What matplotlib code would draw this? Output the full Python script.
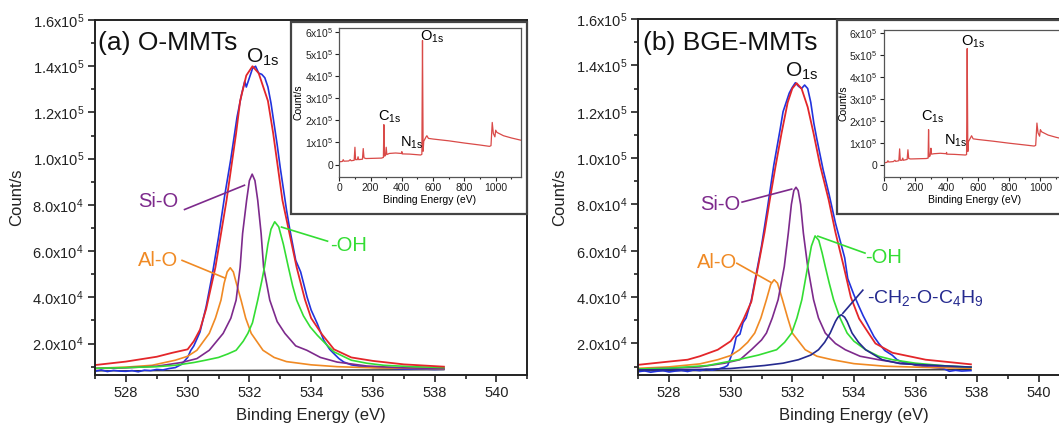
import numpy as np
import matplotlib
matplotlib.use("Agg")
import matplotlib.pyplot as plt
from matplotlib.patches import Rectangle
from matplotlib.ticker import FuncFormatter, MultipleLocator

plt.rcParams['font.family'] = ['Liberation Sans', 'DejaVu Sans']
plt.rcParams['mathtext.fontset'] = 'custom'
plt.rcParams['mathtext.rm'] = 'Liberation Sans'
plt.rcParams['mathtext.it'] = 'Liberation Sans:italic'

W, H = 1059, 425

# ---------------- panel (a) O-MMTs, O1s high resolution ----------------
a_raw_E = [527.0, 527.2, 527.4, 527.6, 527.8, 528.0, 528.2, 528.4, 528.6, 528.8, 529.0, 529.2,
           529.4, 529.6, 529.8, 530.0, 530.1, 530.2, 530.3, 530.4, 530.6, 530.8, 531.0, 531.2,
           531.4, 531.6, 531.75, 531.85, 531.9, 532.0, 532.1, 532.2, 532.3, 532.4, 532.5, 532.6,
           532.7, 532.8, 532.9, 533.0, 533.1, 533.2, 533.3, 533.4, 533.5, 533.66, 533.87, 534.0,
           534.2, 534.41, 534.6, 534.74, 534.9, 535.06, 535.3, 535.6, 536.0, 536.4, 536.8, 537.2,
           537.6, 538.0, 538.3]
a_raw_v = [8000, 8600, 7900, 8400, 8100, 8000, 8300, 7800, 8500, 8300, 8800, 8600,
           9200, 9600, 11000, 14000, 17000, 19000, 22000, 25000, 36000, 50000, 66000, 84000,
           100000, 118000, 128000, 133500, 131000, 135000, 139000, 140000, 137000, 136500, 135000, 131000,
           124000, 115000, 106000, 96000, 87000, 78000, 70000, 63000, 56000, 51000, 40000, 34500,
           28600, 21400, 17500, 15600, 13500, 12000, 10800, 10100, 9700, 9500, 9100, 8900,
           9000, 8800, 8900]

a_fit_E = [527.0, 528.0, 529.0, 529.5, 530.0, 530.2, 530.4, 530.6, 530.9, 531.26, 531.57, 531.7,
           531.9, 532.1, 532.3, 532.6, 532.77, 533.07, 533.53, 533.8, 534.0, 534.35, 534.74, 535.3,
           536.0, 537.0, 538.3]
a_fit_v = [10700, 12200, 14300, 16000, 17500, 21000, 26000, 35000, 53000, 82000, 111000, 125000,
           136000, 140000, 137000, 125000, 111000, 82000, 53000, 39000, 31000, 24000, 17500, 14000,
           12500, 11000, 10000]

a_sio_E = [527.0, 528.0, 529.0, 529.8, 530.3, 530.7, 531.15, 531.4, 531.57, 531.7, 531.78, 531.91,
           532.0, 532.09, 532.18, 532.27, 532.38, 532.46, 532.66, 532.9, 533.15, 533.5, 533.86,
           534.3, 534.84, 535.8, 537.0, 538.3]
a_sio_v = [9200, 9500, 10200, 11800, 13500, 17100, 24400, 31000, 38800, 53000, 67600, 82000,
           90500, 93300, 90500, 82000, 67600, 53000, 38800, 29500, 24400, 19000, 17100,
           14000, 12000, 10300, 9500, 9200]

a_alo_E = [527.0, 528.0, 528.85, 529.6, 530.0, 530.3, 530.7, 530.9, 531.08, 531.18, 531.28, 531.38,
           531.48, 531.58, 531.73, 531.88, 532.06, 532.44, 532.8, 533.2, 534.0, 534.84, 536.0, 538.3]
a_alo_v = [9300, 9800, 10600, 12800, 14500, 17100, 24400, 31000, 38800, 46000, 51000, 52800,
           51000, 46000, 38800, 31000, 24400, 17100, 14000, 12200, 10800, 10000, 9500, 9100]

a_oh_E = [527.0, 528.0, 529.0, 529.6, 530.2, 530.58, 531.0, 531.3, 531.57, 531.8, 531.95, 532.1,
          532.27, 532.4, 532.49, 532.6, 532.7, 532.82, 532.95, 533.1, 533.26, 533.4, 533.53, 533.75,
          533.97, 534.2, 534.5, 534.74, 535.3, 535.8, 536.35, 537.3, 538.3]
a_oh_v = [9300, 9600, 10000, 10600, 11800, 12800, 14000, 15500, 17100, 21000, 24400, 29000,
          38800, 47000, 53200, 63000, 69500, 72700, 70500, 63000, 53200, 45000, 38800, 32000,
          27200, 23600, 19500, 16400, 12800, 11500, 10600, 10000, 9600]

a_bg_E = [527.0, 538.3]
a_bg_v = [8200, 8700]

# ---------------- panel (b) BGE-MMTs ----------------
b_raw_E = [527.0, 527.2, 527.4, 527.6, 527.8, 528.0, 528.2, 528.4, 528.6, 528.8, 529.0, 529.2,
           529.4, 529.6, 529.8, 529.9, 530.0, 530.1, 530.18, 530.3, 530.4, 530.5, 530.67, 530.8,
           531.0, 531.2, 531.4, 531.6, 531.7, 531.8, 531.9, 532.0, 532.1, 532.2, 532.3, 532.4,
           532.5, 532.6, 532.7, 532.8, 533.0, 533.2, 533.4, 533.6, 533.7, 533.8, 534.0, 534.17,
           534.3, 534.49, 534.65, 534.81, 535.0, 535.25, 535.4, 535.57, 535.8, 536.0, 536.33, 536.6,
           536.9, 537.1, 537.3, 537.5, 537.8]
b_raw_v = [7800, 8200, 7600, 8000, 8300, 7700, 8100, 8400, 7900, 8600, 8300, 8800,
           8500, 9000, 9800, 10500, 14000, 18000, 22800, 24000, 29000, 31000, 38700, 48000,
           62000, 79000, 97000, 112000, 120000, 124000, 128000, 130500, 132500, 131000, 130000, 131500,
           130000, 124000, 115000, 108000, 95000, 84000, 72000, 62000, 57000, 48000, 41000, 35800,
           32000, 27100, 23000, 20000, 17000, 14900, 13000, 12000, 11500, 10600, 10000, 9600,
           9200, 8000, 8400, 8100, 8300]

b_fit_E = [527.0, 528.0, 528.6, 529.0, 529.58, 530.0, 530.18, 530.4, 530.67, 530.89, 531.1, 531.27,
           531.45, 531.65, 531.85, 532.0, 532.14, 532.3, 532.5, 532.69, 532.9, 533.18, 533.4, 533.67,
           533.9, 534.17, 534.45, 534.7, 535.25, 536.33, 537.8]
b_fit_v = [10800, 12200, 13000, 14500, 17300, 21000, 24300, 30000, 38000, 53200, 68000, 82000,
           96000, 110700, 124000, 130000, 132300, 130000, 122000, 110700, 97000, 82000, 68000, 53200,
           40000, 30700, 25000, 20000, 16000, 13000, 11000]

b_sio_E = [527.0, 528.0, 529.0, 529.8, 530.3, 530.67, 531.0, 531.16, 531.35, 531.54, 531.74, 531.87,
           531.97, 532.05, 532.12, 532.19, 532.27, 532.36, 532.5, 532.69, 532.85, 533.07, 533.4, 533.72,
           534.2, 534.8, 535.5, 536.5, 537.8]
b_sio_v = [9000, 9300, 9900, 11500, 13000, 17300, 21500, 24500, 31000, 38900, 53200, 67600,
           80000, 86000, 87400, 86000, 80000, 67600, 53200, 38900, 31000, 24500, 20000, 17300,
           14500, 13000, 11500, 10300, 9800]

b_oh_E = [527.0, 528.0, 529.25, 530.24, 530.9, 531.49, 531.75, 531.98, 532.15, 532.31, 532.5, 532.62,
          532.74, 532.86, 532.97, 533.07, 533.2, 533.34, 533.55, 533.78, 534.0, 534.38, 534.8, 535.25,
          536.0, 537.0, 537.8]
b_oh_v = [9000, 9300, 10500, 13000, 15000, 17300, 20500, 24500, 31000, 38900, 53200, 62000,
          66400, 64500, 59000, 53200, 46000, 38900, 31000, 24500, 21000, 17300, 14500, 13000,
          11500, 10300, 9800]

b_alo_E = [527.0, 528.0, 529.0, 529.58, 530.0, 530.29, 530.55, 530.78, 530.98, 531.16, 531.3, 531.41,
           531.52, 531.68, 531.85, 532.0, 532.42, 532.8, 533.29, 534.0, 535.0, 536.5, 537.8]
b_alo_v = [9300, 9900, 11200, 13000, 14800, 17300, 20500, 24500, 31000, 38900, 45500, 47500,
           46000, 38900, 31000, 24500, 17300, 14500, 13000, 11300, 10200, 9600, 9300]

b_ether_E = [527.0, 529.0, 530.0, 531.1, 531.7, 532.2, 532.6, 532.85, 533.05, 533.23, 533.4, 533.48,
             533.59, 533.7, 533.78, 533.94, 534.15, 534.38, 534.92, 535.5, 536.56, 537.8]
b_ether_v = [8600, 8800, 9200, 10500, 11500, 13000, 15000, 17300, 20500, 24500, 29500, 31300,
             32400, 31300, 29500, 24500, 20500, 17300, 13000, 11300, 10600, 9800]

b_bg_E = [527.0, 537.8]
b_bg_v = [8200, 8700]

# ---------------- survey spectra (insets) ----------------
sv_a_E = [0, 20, 25, 30, 60, 70, 75, 95, 100, 104, 115, 120, 124, 148, 153, 158, 170, 270,
          282, 285, 288, 295, 300, 304, 320, 360, 398, 400, 402, 450, 520, 528, 532, 536,
          540, 555, 560, 570, 600, 700, 800, 900, 960, 970, 978, 985, 995, 1000, 1008, 1050,
          1100, 1160]
sv_a_v = [12000, 14000, 22000, 15000, 16000, 22000, 17000, 19000, 78000, 22000, 22000, 35000,
          22000, 24000, 72000, 30000, 27000, 29000, 32000, 180000, 38000, 40000, 78000, 45000,
          50000, 52000, 50000, 58000, 48000, 47000, 43000, 46000, 560000, 60000, 105000, 125000,
          130000, 118000, 115000, 107000, 97000, 88000, 82000, 85000, 190000, 140000, 125000,
          155000, 145000, 130000, 120000, 110000]

sv_b_E = [0, 20, 25, 30, 60, 70, 75, 95, 100, 104, 115, 120, 124, 148, 153, 158, 170, 270,
          282, 285, 288, 295, 300, 304, 320, 360, 398, 400, 402, 450, 520, 528, 532, 536,
          540, 555, 560, 570, 600, 700, 800, 900, 960, 970, 978, 985, 995, 1000, 1008, 1050,
          1100, 1160]
sv_b_v = [8000, 11000, 18000, 12000, 14000, 20000, 15000, 18000, 72000, 20000, 20000, 30000,
          20000, 24000, 68000, 28000, 26000, 28000, 30000, 160000, 36000, 40000, 75000, 48000,
          50000, 52000, 50000, 56000, 48000, 47000, 44000, 46000, 530000, 60000, 105000, 125000,
          132000, 118000, 115000, 107000, 98000, 90000, 85000, 88000, 190000, 145000, 130000,
          160000, 150000, 135000, 125000, 115000]

RED = '#e3262a'
BLUE = '#2233dd'
PURPLE = '#7d2a8c'
GREEN = '#33dd33'
ORANGE = '#f08a24'
NAVY = '#252a8f'
BG = '#333333'
SURVEY = '#d94a48'


def fig_rect(x0, y0, x1, y1):
    """pixel box (top-left origin) -> figure fraction rect"""
    return [x0 / W, 1 - y1 / H, (x1 - x0) / W, (y1 - y0) / H]


def main_fmt(v, pos):
    e = int(np.floor(np.log10(v)))
    return r'%.1fx10$^{%d}$' % (v / 10 ** e, e)


def inset_fmt(v, pos):
    if v == 0:
        return '0'
    e = int(np.floor(np.log10(v)))
    return r'%dx10$^{%d}$' % (round(v / 10 ** e), e)


def style_main(ax):
    ax.set_xlim(527, 541)
    ax.set_ylim(6400, 160000)
    ax.xaxis.set_major_locator(MultipleLocator(2))
    ax.xaxis.set_minor_locator(MultipleLocator(1))
    ax.set_yticks(np.arange(20000, 160001, 20000))
    ax.yaxis.set_minor_locator(MultipleLocator(10000))
    ax.yaxis.set_major_formatter(FuncFormatter(main_fmt))
    ax.tick_params(which='both', direction='out', top=False, right=False,
                   labelsize=10.5, width=1.2, colors='#222222')
    ax.tick_params(which='major', length=5, pad=3)
    ax.tick_params(which='minor', length=3)
    for s in ax.spines.values():
        s.set_linewidth(1.4)
        s.set_color('#222222')
    ax.set_xlabel('Binding Energy (eV)', fontsize=12, color='#222222', labelpad=6)
    ax.set_ylabel('Count/s', fontsize=12, color='#222222', labelpad=6)


def style_inset(ax):
    ax.set_xlim(0, 1160)
    ax.set_ylim(-55000, 615000)
    ax.set_xticks([0, 200, 400, 600, 800, 1000])
    ax.xaxis.set_minor_locator(MultipleLocator(100))
    ax.set_yticks(np.arange(0, 600001, 100000))
    ax.yaxis.set_major_formatter(FuncFormatter(inset_fmt))
    ax.tick_params(which='both', direction='out', top=False, right=False,
                   labelsize=7.5, width=0.8, colors='#222222', pad=1.5)
    ax.tick_params(which='major', length=3)
    ax.tick_params(which='minor', length=1.5)
    for s in ax.spines.values():
        s.set_linewidth(0.9)
        s.set_color('#555555')
    ax.set_xlabel('Binding Energy (eV)', fontsize=7.5, labelpad=1.5)
    ax.set_ylabel('Count/s', fontsize=7.5, labelpad=1)


def sub(base, s):
    return base + r'$_{\mathrm{' + s + '}}$'


fig = plt.figure(figsize=(W / 100, H / 100), dpi=100)

# ---------- panel a ----------
axA = fig.add_axes(fig_rect(95, 20, 527.3, 375))
style_main(axA)
axA.plot(a_bg_E, a_bg_v, color=BG, lw=1.0)
axA.plot(a_raw_E, a_raw_v, color=BLUE, lw=1.2)
axA.plot(a_alo_E, a_alo_v, color=ORANGE, lw=1.2)
axA.plot(a_sio_E, a_sio_v, color=PURPLE, lw=1.2)
axA.plot(a_oh_E, a_oh_v, color=GREEN, lw=1.2)
axA.plot(a_fit_E, a_fit_v, color=RED, lw=1.3)

axA.text(527.1, 147000, '(a) O-MMTs', fontsize=19, va='baseline', color='#111111')
axA.text(531.9, 141400, sub('O', '1s'), fontsize=15, va='baseline', color='#111111')
axA.text(528.4, 79000, 'Si-O', fontsize=14.5, va='baseline', color=PURPLE)
axA.plot([529.9, 531.84], [78000, 88500], color=PURPLE, lw=1.2)
axA.text(528.4, 53500, 'Al-O', fontsize=14.5, va='baseline', color=ORANGE)
axA.plot([529.82, 531.22], [56000, 48300], color=ORANGE, lw=1.2)
axA.text(534.6, 60000, '-OH', fontsize=14.5, va='baseline', color=GREEN)
axA.plot([534.53, 533.04], [64300, 70400], color=GREEN, lw=1.2)

# ---------- panel b ----------
axB = fig.add_axes(fig_rect(638.3, 19, 638.3 + 14 * 30.8, 375))
style_main(axB)
axB.plot(b_bg_E, b_bg_v, color=BG, lw=1.0)
axB.plot(b_raw_E, b_raw_v, color=BLUE, lw=1.2)
axB.plot(b_alo_E, b_alo_v, color=ORANGE, lw=1.2)
axB.plot(b_sio_E, b_sio_v, color=PURPLE, lw=1.2)
axB.plot(b_oh_E, b_oh_v, color=GREEN, lw=1.2)
axB.plot(b_ether_E, b_ether_v, color=NAVY, lw=1.2)
axB.plot(b_fit_E, b_fit_v, color=RED, lw=1.3)

axB.text(527.15, 146600, '(b) BGE-MMTs', fontsize=19, va='baseline', color='#111111')
axB.text(531.76, 135000, sub('O', '1s'), fontsize=15, va='baseline', color='#111111')
axB.text(529.0, 77500, 'Si-O', fontsize=14.5, va='baseline', color=PURPLE)
axB.plot([530.37, 531.98], [81000, 86600], color=PURPLE, lw=1.2)
axB.text(528.9, 52500, 'Al-O', fontsize=14.5, va='baseline', color=ORANGE)
axB.plot([530.2, 531.3], [54600, 46400], color=ORANGE, lw=1.2)
axB.text(534.36, 54600, '-OH', fontsize=14.5, va='baseline', color=GREEN)
axB.plot([534.36, 532.83], [59000, 66300], color=GREEN, lw=1.2)
axB.text(534.42, 37400, '-CH' + r'$_{\mathrm{2}}$' + '-O-C' + r'$_{\mathrm{4}}$' + 'H' + r'$_{\mathrm{9}}$',
         fontsize=14, va='baseline', color=NAVY)
axB.plot([534.29, 533.64], [43000, 33000], color=NAVY, lw=1.2)

# ---------- inset frames ----------
fig.patches.append(Rectangle((291 / W, 1 - 214 / H), (527 - 291) / W, (214 - 22) / H,
                             transform=fig.transFigure, fill=True, facecolor='white',
                             edgecolor='#444444', lw=1.6, zorder=3))
fig.patches.append(Rectangle((836.7 / W, 1 - 214 / H), (1075 - 836.7) / W, (214 - 20) / H,
                             transform=fig.transFigure, fill=True, facecolor='white',
                             edgecolor='#444444', lw=1.6, zorder=3))

insA = fig.add_axes(fig_rect(339.3, 28.3, 520.7, 176.7))
insA.set_zorder(5)
style_inset(insA)
insA.plot(sv_a_E, sv_a_v, color=SURVEY, lw=0.9)
insA.text(246, 200000, sub('C', '1s'), fontsize=10.5, va='baseline')
insA.text(390, 82000, sub('N', '1s'), fontsize=10.5, va='baseline')
insA.text(515, 560000, sub('O', '1s'), fontsize=10.5, va='baseline')

insB = fig.add_axes(fig_rect(884, 30, 884 + 181.4, 176.7))
insB.set_zorder(5)
style_inset(insB)
insB.plot(sv_b_E, sv_b_v, color=SURVEY, lw=0.9)
insB.text(236, 200000, sub('C', '1s'), fontsize=10.5, va='baseline')
insB.text(385, 90000, sub('N', '1s'), fontsize=10.5, va='baseline')
insB.text(495, 545000, sub('O', '1s'), fontsize=10.5, va='baseline')

fig.savefig('out.png', dpi=100)
